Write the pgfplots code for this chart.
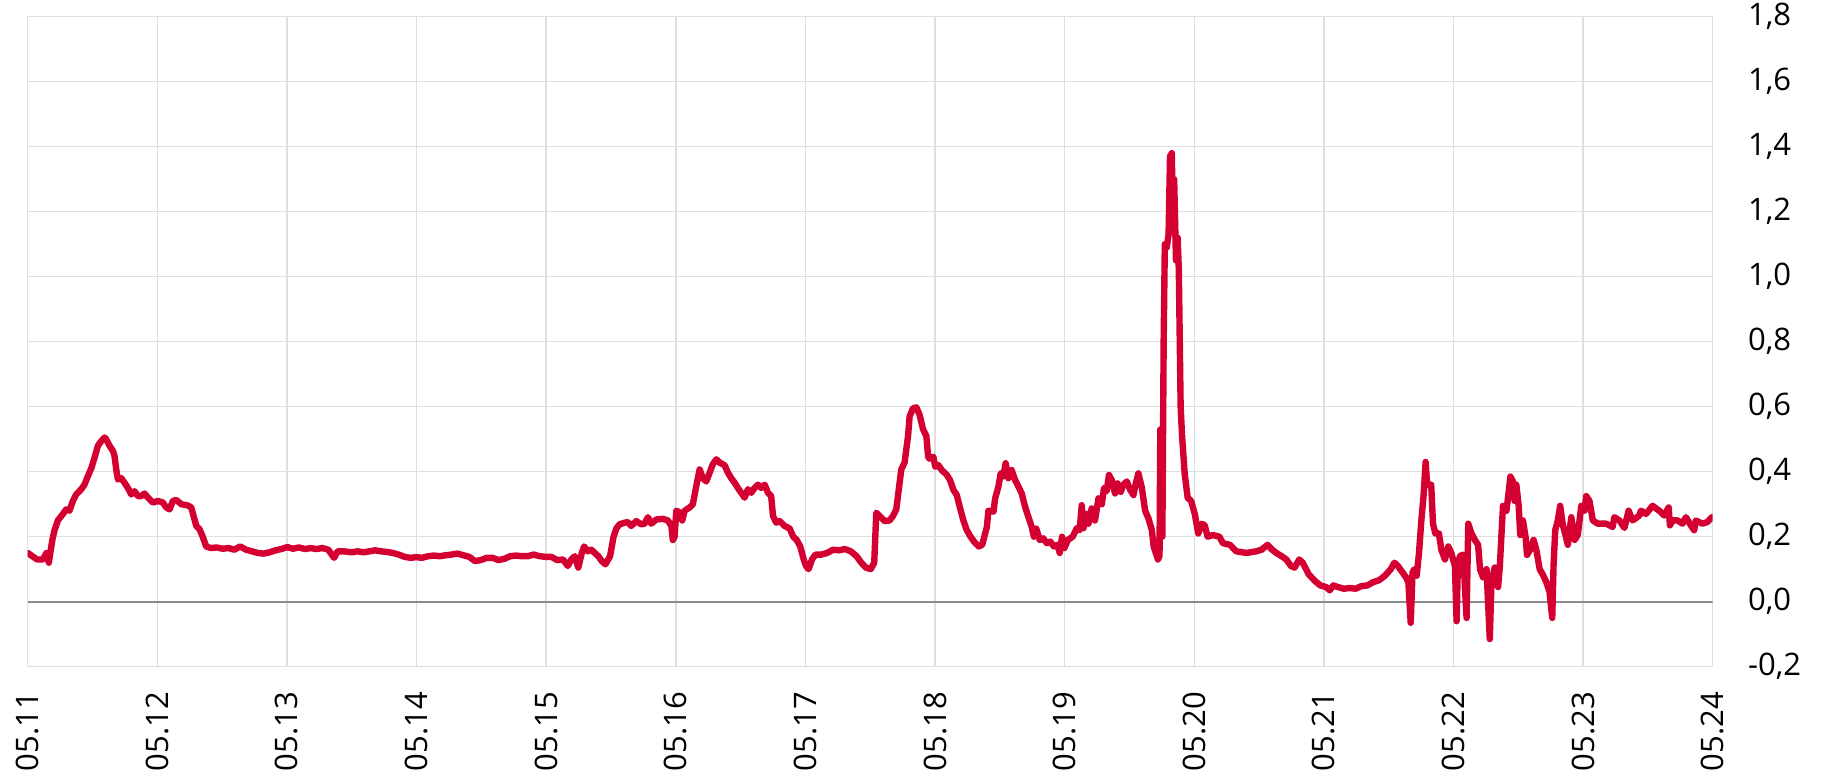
\documentclass[border=0pt]{standalone}
\usepackage{pgfplots}
\pgfplotsset{compat=1.18}
\usepackage{fontspec}
\setmainfont{Open Sans}
\definecolor{linered}{RGB}{213,0,50}
\definecolor{gridgray}{RGB}{222,222,222}
\definecolor{zerogray}{RGB}{140,140,140}

\begin{document}
\begin{tikzpicture}
\begin{axis}[
    scale only axis,
    width=842.5pt, height=325pt,
    xmin=0, xmax=13,
    ymin=-0.2, ymax=1.8,
    xtick={0,1,...,13},
    xticklabels={05.11,05.12,05.13,05.14,05.15,05.16,05.17,05.18,05.19,05.20,05.21,05.22,05.23,05.24},
    ytick={-0.2,0,0.2,0.4,0.6,0.8,1.0,1.2,1.4,1.6,1.8},
    yticklabel pos=right,
    major tick length=0pt,
    xmajorgrids, ymajorgrids,
    grid style={gridgray, line width=0.75pt},
    axis line style={gridgray, line width=0.75pt},
    tick label style={font=\fontsize{15.5}{18}\selectfont, text=black, inner sep=0pt},
    xticklabel style={rotate=90, anchor=east},
    xticklabel shift=12.5pt,
    yticklabel style={anchor=west},
    yticklabel shift=17.5pt,
    /pgf/number format/assume math mode=true,
    /pgf/number format/.cd, use comma, fixed, fixed zerofill, precision=1,
]
  \addplot[zerogray, line width=0.8pt] coordinates {(0,0)(13,0)};

  \addplot[linered, line width=3.2pt, line join=round, line cap=round] coordinates {
(0,0.15)(0.036,0.14)(0.072,0.13)(0.118,0.13)(0.145,0.15)(0.163,0.12)(0.190,0.19)(0.207,0.22)
(0.233,0.25)(0.272,0.27)(0.297,0.284)(0.322,0.28)(0.349,0.31)(0.374,0.33)(0.413,0.346)(0.438,0.36)
(0.465,0.387)(0.490,0.41)(0.516,0.443)(0.542,0.48)(0.567,0.494)(0.593,0.505)(0.606,0.5)(0.631,0.48)
(0.658,0.464)(0.670,0.448)(0.683,0.407)(0.696,0.376)(0.722,0.38)(0.747,0.366)(0.773,0.35)(0.799,0.33)
(0.824,0.34)(0.851,0.325)(0.876,0.325)(0.901,0.333)(0.928,0.32)(0.966,0.305)(1.005,0.31)(1.043,0.305)
(1.069,0.29)(1.094,0.284)(1.120,0.31)(1.146,0.313)(1.185,0.30)(1.236,0.296)(1.262,0.29)(1.287,0.253)
(1.301,0.233)(1.326,0.223)(1.350,0.2)(1.377,0.17)(1.413,0.165)(1.458,0.167)(1.504,0.163)(1.549,0.165)
(1.594,0.16)(1.639,0.17)(1.685,0.16)(1.730,0.155)(1.775,0.15)(1.821,0.148)(1.866,0.152)(1.911,0.158)
(1.957,0.162)(2.002,0.168)(2.047,0.163)(2.092,0.167)(2.138,0.162)(2.183,0.165)(2.228,0.162)(2.274,0.165)
(2.319,0.16)(2.364,0.135)(2.391,0.155)(2.437,0.155)(2.500,0.152)(2.545,0.155)(2.591,0.152)(2.636,0.155)
(2.681,0.158)(2.726,0.155)(2.772,0.153)(2.817,0.15)(2.862,0.145)(2.908,0.138)(2.953,0.135)(2.998,0.137)
(3.043,0.135)(3.089,0.14)(3.134,0.142)(3.179,0.14)(3.225,0.143)(3.270,0.145)(3.315,0.148)(3.361,0.143)
(3.406,0.138)(3.451,0.125)(3.496,0.128)(3.542,0.135)(3.587,0.135)(3.632,0.128)(3.678,0.132)(3.723,0.14)
(3.768,0.142)(3.813,0.14)(3.859,0.14)(3.904,0.145)(3.949,0.14)(3.995,0.138)(4.040,0.138)(4.085,0.128)
(4.130,0.13)(4.167,0.11)(4.194,0.13)(4.221,0.14)(4.248,0.105)(4.275,0.15)(4.293,0.17)(4.321,0.155)
(4.348,0.16)(4.375,0.15)(4.402,0.14)(4.429,0.125)(4.457,0.115)(4.493,0.14)(4.520,0.2)(4.541,0.225)
(4.566,0.238)(4.605,0.243)(4.630,0.245)(4.656,0.233)(4.695,0.248)(4.734,0.238)(4.759,0.24)(4.785,0.26)
(4.811,0.24)(4.850,0.253)(4.901,0.255)(4.939,0.25)(4.966,0.233)(4.977,0.19)(4.991,0.2)(5.004,0.28)
(5.029,0.275)(5.050,0.25)(5.068,0.28)(5.107,0.29)(5.132,0.30)(5.158,0.356)(5.184,0.407)(5.209,0.38)
(5.235,0.37)(5.261,0.397)(5.286,0.423)(5.313,0.438)(5.338,0.428)(5.377,0.42)(5.402,0.397)(5.428,0.38)
(5.454,0.366)(5.479,0.35)(5.505,0.335)(5.531,0.32)(5.557,0.346)(5.582,0.335)(5.608,0.35)(5.634,0.36)
(5.659,0.35)(5.686,0.36)(5.711,0.335)(5.736,0.325)(5.750,0.264)(5.775,0.243)(5.801,0.248)(5.840,0.233)
(5.879,0.225)(5.906,0.2)(5.933,0.19)(5.960,0.17)(5.987,0.13)(6.005,0.11)(6.024,0.10)(6.051,0.13)
(6.078,0.145)(6.123,0.145)(6.168,0.15)(6.214,0.16)(6.259,0.158)(6.304,0.162)(6.350,0.155)(6.395,0.14)
(6.431,0.12)(6.467,0.105)(6.504,0.10)(6.531,0.12)(6.547,0.274)(6.572,0.264)(6.611,0.248)(6.650,0.25)
(6.676,0.264)(6.701,0.284)(6.740,0.407)(6.765,0.428)(6.792,0.51)(6.804,0.57)(6.830,0.595)(6.856,0.598)
(6.881,0.575)(6.908,0.53)(6.933,0.51)(6.947,0.446)(6.958,0.44)(6.987,0.446)(7.002,0.415)(7.026,0.42)
(7.052,0.405)(7.091,0.39)(7.116,0.374)(7.142,0.344)(7.168,0.328)(7.194,0.287)(7.219,0.25)(7.245,0.22)
(7.274,0.2)(7.301,0.185)(7.337,0.17)(7.364,0.175)(7.400,0.23)(7.412,0.28)(7.451,0.277)(7.464,0.318)
(7.489,0.354)(7.507,0.395)(7.527,0.385)(7.545,0.426)(7.566,0.38)(7.591,0.405)(7.618,0.374)(7.644,0.354)
(7.669,0.333)(7.695,0.292)(7.721,0.26)(7.746,0.23)(7.763,0.20)(7.781,0.225)(7.808,0.19)(7.835,0.195)
(7.862,0.18)(7.889,0.185)(7.917,0.17)(7.944,0.175)(7.962,0.15)(7.980,0.2)(7.998,0.165)(8.025,0.19)
(8.062,0.2)(8.094,0.226)(8.116,0.22)(8.132,0.297)(8.145,0.226)(8.170,0.27)(8.184,0.24)(8.209,0.287)
(8.234,0.25)(8.261,0.318)(8.287,0.30)(8.304,0.35)(8.324,0.34)(8.342,0.39)(8.364,0.374)(8.389,0.333)
(8.408,0.364)(8.433,0.338)(8.454,0.36)(8.480,0.37)(8.506,0.344)(8.531,0.328)(8.549,0.364)(8.569,0.395)
(8.596,0.35)(8.621,0.28)(8.647,0.256)(8.673,0.22)(8.687,0.17)(8.720,0.13)(8.732,0.14)(8.738,0.53)
(8.745,0.25)(8.754,0.20)(8.764,0.8)(8.773,1.1)(8.788,1.09)(8.802,1.13)(8.813,1.37)(8.827,1.38)
(8.836,1.14)(8.845,1.30)(8.859,1.05)(8.872,1.12)(8.881,1.02)(8.895,0.6)(8.906,0.51)(8.926,0.395)
(8.949,0.32)(8.976,0.31)(9.004,0.27)(9.031,0.21)(9.058,0.24)(9.081,0.235)(9.103,0.2)(9.144,0.205)
(9.194,0.2)(9.221,0.18)(9.275,0.175)(9.324,0.155)(9.402,0.15)(9.479,0.155)(9.520,0.16)(9.565,0.175)
(9.601,0.16)(9.633,0.15)(9.674,0.14)(9.710,0.13)(9.746,0.11)(9.774,0.105)(9.810,0.13)(9.837,0.12)
(9.882,0.085)(9.928,0.065)(9.973,0.05)(10.018,0.045)(10.045,0.035)(10.073,0.05)(10.109,0.045)(10.154,0.04)
(10.199,0.042)(10.245,0.04)(10.290,0.048)(10.335,0.05)(10.380,0.06)(10.426,0.066)(10.471,0.08)(10.516,0.10)
(10.544,0.12)(10.571,0.11)(10.607,0.09)(10.634,0.075)(10.652,0.06)(10.670,-0.065)(10.684,0.09)(10.698,0.1)
(10.716,0.08)(10.734,0.15)(10.752,0.25)(10.770,0.33)(10.785,0.43)(10.797,0.36)(10.828,0.36)(10.842,0.24)
(10.860,0.21)(10.888,0.21)(10.906,0.16)(10.934,0.13)(10.960,0.17)(10.983,0.15)(11.011,0.11)(11.024,-0.06)
(11.033,0.10)(11.049,0.14)(11.075,0.145)(11.101,-0.05)(11.114,0.24)(11.139,0.21)(11.165,0.19)(11.190,0.175)
(11.205,0.10)(11.228,0.075)(11.255,0.10)(11.280,-0.115)(11.293,0.06)(11.318,0.105)(11.344,0.045)(11.357,0.105)
(11.370,0.205)(11.382,0.295)(11.409,0.28)(11.422,0.325)(11.439,0.385)(11.459,0.37)(11.472,0.31)(11.485,0.36)
(11.503,0.295)(11.515,0.205)(11.536,0.25)(11.557,0.197)(11.567,0.144)(11.592,0.16)(11.618,0.19)(11.639,0.16)
(11.665,0.10)(11.690,0.083)(11.716,0.06)(11.741,0.03)(11.762,-0.05)(11.772,0.11)(11.785,0.22)(11.805,0.25)
(11.823,0.295)(11.844,0.235)(11.864,0.205)(11.882,0.175)(11.909,0.26)(11.934,0.19)(11.959,0.205)(11.986,0.295)
(12.011,0.28)(12.024,0.325)(12.049,0.31)(12.075,0.25)(12.113,0.24)(12.178,0.24)(12.228,0.23)(12.241,0.26)
(12.280,0.25)(12.319,0.227)(12.351,0.28)(12.382,0.25)(12.434,0.265)(12.446,0.28)(12.485,0.27)(12.536,0.295)
(12.587,0.28)(12.626,0.265)(12.660,0.29)(12.670,0.235)(12.690,0.25)(12.729,0.25)(12.767,0.24)(12.793,0.26)
(12.831,0.235)(12.857,0.22)(12.870,0.25)(12.920,0.24)(12.959,0.245)(12.993,0.26)
  };
\end{axis}
\path ([xshift=-13.85pt,yshift=-54.65pt]current axis.south west) rectangle ([xshift=64.15pt,yshift=8.35pt]current axis.north east);
\end{tikzpicture}
\end{document}
